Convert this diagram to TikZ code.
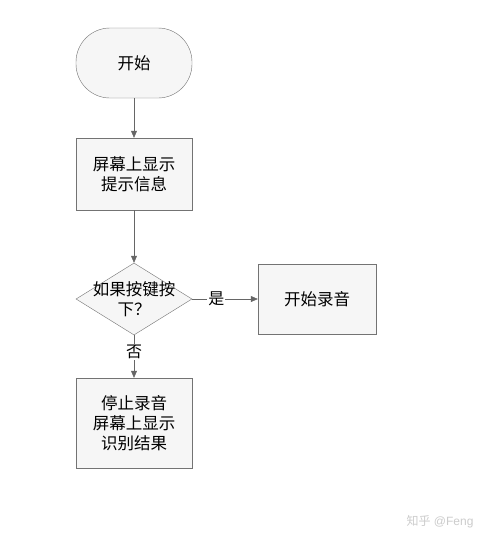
\documentclass[tikz,border=0pt]{standalone}
\usepackage{fontspec}
\setmainfont{Liberation Sans}
\newfontfamily\cjk{Noto Sans CJK SC}
\usetikzlibrary{shapes.geometric, arrows.meta, positioning}
\tikzset{
    block/.style={draw=gray!90!black, fill=gray!7, thin, minimum width=116pt, align=center, font=\cjk\fontsize{16.5}{20}\selectfont},
    link/.style={draw=gray!80!black, thin, -{Triangle[length=7pt, width=6pt]}},
    lbl/.style={font=\cjk\fontsize{16}{18}\selectfont, fill=white, inner sep=1pt}
}
\begin{document}
\begin{tikzpicture}[x=1pt, y=-1pt]
    \useasboundingbox[fill=white] (0,0) rectangle (497,546);
    % boxes
    \node[block, minimum height=70pt, rounded corners=34pt] (start) at (134,63) {开始};
    \node[block, minimum height=72pt] (show) at (134,174) {屏幕上显示\\提示信息};
    \node[block, diamond, minimum width=116pt, minimum height=72pt, inner sep=0pt] (ask) at (134,299) {};
    \node[align=center, font=\cjk\fontsize{16.5}{20}\selectfont] (asktext) at (ask) {如果按键按\\下？};
    \node[block, minimum width=118pt, minimum height=70pt] (rec) at (317,299) {开始录音};
    \node[block, minimum height=90pt] (stop) at (134,423) {停止录音\\屏幕上显示\\识别结果};
    % arrows
    \draw[link] (start) -- (show);
    \draw[link] (show) -- (ask);
    \draw[link] (ask) -- (rec) node[lbl, pos=0.37] {是};
    \draw[link] (ask) -- (stop) node[lbl, pos=0.4] {否};
    % watermark
    \node[text=gray!40, font=\fontsize{12}{14}\selectfont] (mark) at (440,522) {{\cjk 知乎} @Feng};
\end{tikzpicture}
\end{document}
